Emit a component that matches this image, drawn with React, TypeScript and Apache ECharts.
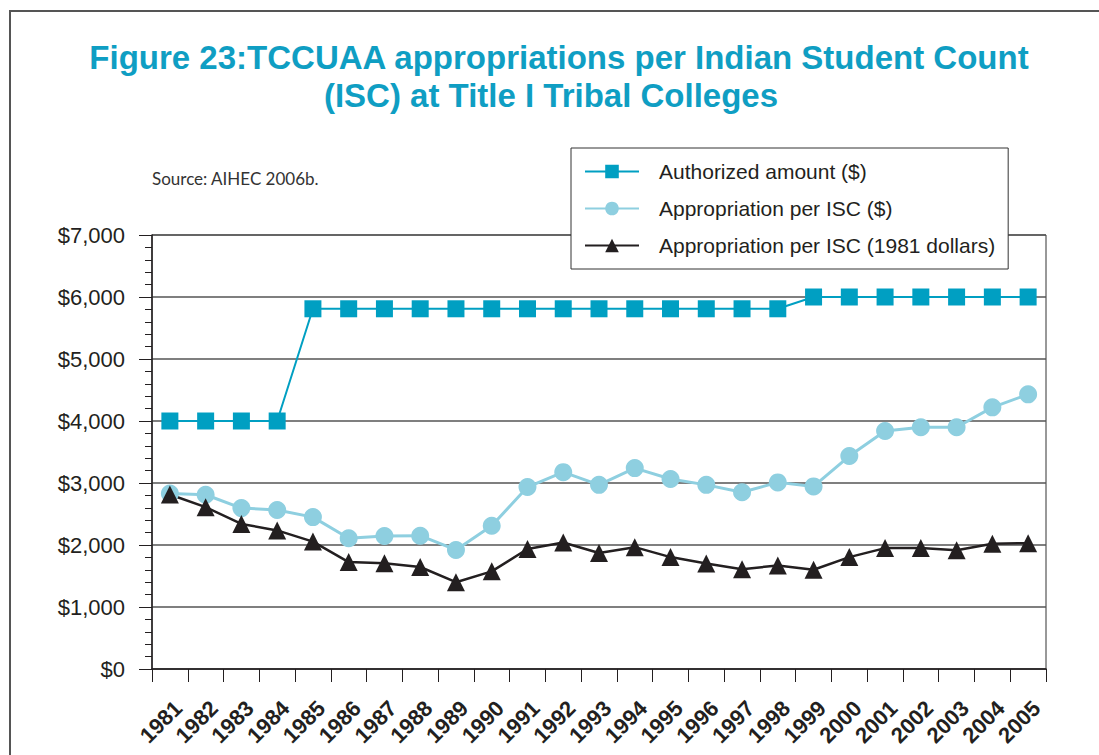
import React, { useEffect, useRef } from "react";
import * as echarts from "echarts";

const years = ["1981","1982","1983","1984","1985","1986","1987","1988","1989","1990","1991","1992","1993","1994","1995","1996","1997","1998","1999","2000","2001","2002","2003","2004","2005"];
const authorized = [4000,4000,4000,4000,5810,5810,5810,5810,5810,5810,5810,5810,5810,5810,5810,5810,5810,5810,6000,6000,6000,6000,6000,6000,6000];
const appropriationISC = [2830,2810,2595,2565,2450,2110,2145,2150,1920,2310,2935,3175,2970,3240,3065,2970,2850,3010,2945,3435,3840,3900,3900,4220,4430];
const appropriation1981 = [2815,2610,2340,2235,2055,1725,1705,1645,1400,1575,1935,2040,1870,1965,1805,1700,1610,1670,1600,1805,1950,1950,1915,2020,2030];
const yTicks = [0,1000,2000,3000,4000,5000,6000,7000];

const titleLine1 = "Figure 23:TCCUAA appropriations per Indian Student Count";
const titleLine2 = "(ISC) at Title I Tribal Colleges";
const sourceText = "Source: AIHEC 2006b.";
const seriesNames = ["Authorized amount ($)", "Appropriation per ISC ($)", "Appropriation per ISC (1981 dollars)"];

const sans = "'Liberation Sans', Arial, sans-serif";

export default function App() {
  const ref = useRef<HTMLDivElement>(null);
  useEffect(() => {
    if (!ref.current) return;
    const chart = echarts.init(ref.current, null, { renderer: "svg" });
    chart.setOption({
      animation: false,
      backgroundColor: "#ffffff",
      graphic: [
        {
          type: "polyline",
          shape: { points: [[10, 760], [10, 11], [1110, 11]] },
          style: { stroke: "#555", lineWidth: 2, fill: "none" },
          silent: true,
        },
        {
          type: "text",
          x: 559,
          y: 57,
          style: {
            text: titleLine1,
            fontFamily: sans,
            fontWeight: "bold",
            fontSize: 33,
            fill: "#0f9ec3",
            align: "center",
            verticalAlign: "middle",
          },
        },
        {
          type: "text",
          x: 551,
          y: 95,
          style: {
            text: titleLine2,
            fontFamily: sans,
            fontWeight: "bold",
            fontSize: 33,
            fill: "#0f9ec3",
            align: "center",
            verticalAlign: "middle",
          },
        },
        {
          type: "text",
          x: 152,
          y: 178,
          style: {
            text: sourceText,
            fontFamily: "Lato, 'Open Sans', sans-serif",
            fontSize: 17,
            fill: "#333",
            verticalAlign: "middle",
          },
        },
      ],
      legend: {
        orient: "vertical",
        left: 571,
        top: 148,
        padding: [10, 13, 10, 13],
        itemWidth: 54,
        itemHeight: 17,
        itemGap: 10,
        backgroundColor: "#ffffff",
        borderColor: "#333",
        borderWidth: 1,
        data: seriesNames,
        textStyle: {
          fontFamily: sans,
          fontSize: 21,
          lineHeight: 27,
          color: "#231f20",
          padding: [0, 0, 0, 15],
        },
      },
      grid: {
        left: 152,
        right: 53,
        top: 235,
        bottom: 86,
        outerBoundsMode: "none",
        containLabel: false,
        show: true,
        borderColor: "#333",
        borderWidth: 1,
        backgroundColor: "transparent",
      },
      xAxis: {
        type: "category",
        data: years,
        boundaryGap: true,
        axisLine: { lineStyle: { color: "#231f20", width: 1.5 } },
        axisTick: { show: true, inside: false, length: 13, lineStyle: { color: "#231f20", width: 1 } },
        axisLabel: {
          rotate: 45,
          margin: 27,
          interval: 0,
          verticalAlign: "top",
          lineHeight: 24,
          fontFamily: sans,
          fontWeight: "bold",
          fontSize: 22,
          color: "#231f20",
        },
        splitLine: { show: false },
      },
      yAxis: {
        type: "value",
        min: 0,
        max: 7000,
        interval: 1000,
        axisLine: { show: true, lineStyle: { color: "#231f20", width: 1.5 } },
        axisTick: { show: true, length: 13, lineStyle: { color: "#231f20", width: 1 } },
        minorTick: { show: true, splitNumber: 5, length: 7, lineStyle: { color: "#231f20", width: 1 } },
        axisLabel: {
          margin: 27,
          fontFamily: sans,
          fontSize: 22,
          color: "#231f20",
          formatter: (v: number) => (yTicks.includes(v) ? "$" + v.toLocaleString("en-US") : ""),
        },
        splitLine: { show: true, lineStyle: { color: "#555", width: 1.5 } },
      },
      series: [
        {
          name: seriesNames[0],
          type: "line",
          data: authorized,
          symbol: "rect",
          symbolSize: 17,
          itemStyle: { color: "#009fc2" },
          lineStyle: { color: "#009fc2", width: 2 },
        },
        {
          name: seriesNames[1],
          type: "line",
          data: appropriationISC,
          symbol: "circle",
          symbolSize: 18,
          itemStyle: { color: "#8ecfe0" },
          lineStyle: { color: "#8ecfe0", width: 3 },
        },
        {
          name: seriesNames[2],
          type: "line",
          data: appropriation1981,
          symbol: "triangle",
          symbolSize: 18,
          itemStyle: { color: "#231f20" },
          lineStyle: { color: "#231f20", width: 2.5 },
        },
      ],
    });
    return () => chart.dispose();
  }, []);
  return <div ref={ref} style={{ position: "fixed", left: 0, top: 0, width: 1099, height: 755 }} />;
}
